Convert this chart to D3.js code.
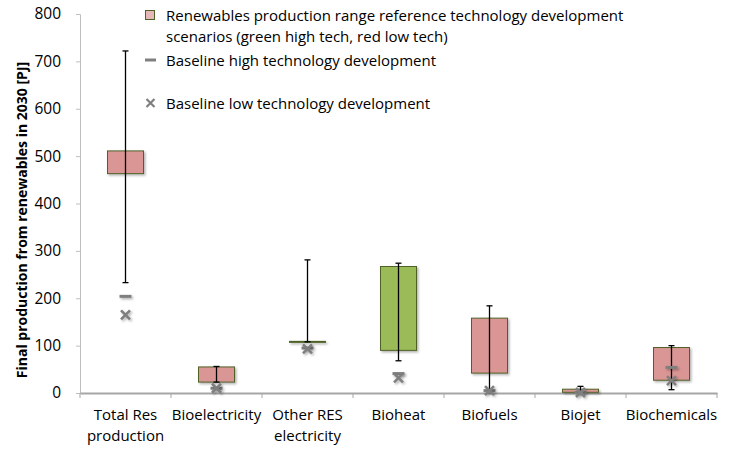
<!DOCTYPE html>
<html><head><meta charset="utf-8">
<script src="https://cdn.jsdelivr.net/npm/d3@7/dist/d3.min.js"></script>
<style>body{margin:0;background:#fff}svg{display:block}text{font-family:"Open Sans","Noto Sans",sans-serif;fill:#000}</style>
</head><body><svg id="c" width="736" height="449"></svg>
<script>
const categories = [["Total Res","production"],["Bioelectricity"],["Other RES","electricity"],["Bioheat"],["Biofuels"],["Biojet"],["Biochemicals"]];
const boxLow   = [463, 23, 108, 90, 42, 1.5, 27];
const boxHigh  = [511, 55, 109, 267, 158, 8, 96];
const whiskerLow  = [233, 23, 108, 68, 5, 1.5, 7];
const whiskerHigh = [722, 56, 281, 274, 184, 14, 100];
const scenario = ["low","low","high","high","low","low","low"];
const baselineHigh = [204, 10, 95, 41, 5, 1, 54];
const baselineLow  = [165, 10, 93, 32, 5, 1, 26];
const yTicks = [0,100,200,300,400,500,600,700,800];
const legendLabels = [["Renewables production range reference technology development","scenarios (green high tech, red low tech)"],["Baseline high technology development"],["Baseline low technology development"]];

const svg = d3.select("#c");
const names = categories.map(c=>c.join(" "));
const x = d3.scaleBand().domain(names).range([80,717]).padding(0);
const y = d3.scaleLinear().domain([0,800]).range([393,14]);
const fillOf = s => s==="high" ? "#9BBB59" : "#D99694";
const boxW = 36;

const defs = svg.append("defs");
const f = defs.append("filter").attr("id","sh").attr("filterUnits","userSpaceOnUse")
  .attr("x",0).attr("y",0).attr("width",736).attr("height",449);
f.append("feDropShadow").attr("dx",1.5).attr("dy",1.5).attr("stdDeviation",1.2).attr("flood-color","#000").attr("flood-opacity",0.3);

// y axis
const ya = svg.append("g").attr("transform","translate(80,0)").call(d3.axisLeft(y).tickValues(yTicks).tickSize(4).tickPadding(15));
ya.select(".domain").attr("stroke","#BFBFBF");
ya.selectAll(".tick line").attr("stroke","#BFBFBF");
ya.selectAll("text").style("font-size","15.5px").attr("fill","#000");

// x axis
const xa = svg.append("g").attr("transform","translate(0,393)").call(d3.axisBottom(x).tickSize(0).tickFormat(""));
xa.select(".domain").attr("stroke","#A6A6A6").attr("stroke-width",1.8);
svg.append("g").selectAll("line").data(names.concat(["__end"])).join("line")
  .attr("x1",(d,i)=> i<names.length ? x(d) : x.range()[1]).attr("x2",(d,i)=> i<names.length ? x(d) : x.range()[1])
  .attr("y1",393).attr("y2",398).attr("stroke","#A6A6A6").attr("stroke-width",1);
categories.forEach((c,i)=>{
  const t = svg.append("text").attr("text-anchor","middle").style("font-size","15px");
  c.forEach((line,j)=> t.append("tspan").attr("x",x(names[i])+x.bandwidth()/2).attr("y",420+j*21).text(line));
});

// y label
svg.append("text").attr("transform","translate(27,220) rotate(-90)").attr("text-anchor","middle")
  .style("font-size","14px").style("font-weight","bold").text("Final production from renewables in 2030 [PJ]");

// boxes
const cx = i => x(names[i]) + x.bandwidth()/2;
const g = svg.append("g");
g.selectAll("rect.box").data(names).join("rect").attr("class","box")
  .attr("x",(d,i)=>cx(i)-boxW/2).attr("width",boxW)
  .attr("y",(d,i)=>y(boxHigh[i])).attr("height",(d,i)=>Math.max(1,y(boxLow[i])-y(boxHigh[i])))
  .attr("fill",(d,i)=>fillOf(scenario[i])).attr("stroke","#4F6228").attr("stroke-width",1)
  .attr("filter","url(#sh)");

// whiskers
g.selectAll("line.wh").data(names).join("line").attr("class","wh")
  .attr("x1",(d,i)=>cx(i)).attr("x2",(d,i)=>cx(i))
  .attr("y1",(d,i)=>y(whiskerHigh[i])).attr("y2",(d,i)=>y(whiskerLow[i]))
  .attr("stroke","#000").attr("stroke-width",1.3);
["cap1","cap2"].forEach((k,ki)=>{
  const arr = ki===0 ? whiskerHigh : whiskerLow;
  g.selectAll("line."+k).data(names).join("line").attr("class",k)
    .attr("x1",(d,i)=>cx(i)-3).attr("x2",(d,i)=>cx(i)+3)
    .attr("y1",(d,i)=>y(arr[i])).attr("y2",(d,i)=>y(arr[i]))
    .attr("stroke","#000").attr("stroke-width",1.3);
});

// baseline high (dash)
g.selectAll("line.bh").data(names).join("line").attr("class","bh")
  .attr("x1",(d,i)=>cx(i)-6).attr("x2",(d,i)=>cx(i)+6)
  .attr("y1",(d,i)=>y(baselineHigh[i])).attr("y2",(d,i)=>y(baselineHigh[i]))
  .attr("stroke","#7F7F7F").attr("stroke-width",3).attr("filter","url(#sh)");
// baseline low (x)
const xPath = (cxv,cyv,s)=>`M${cxv-s},${cyv-s}L${cxv+s},${cyv+s}M${cxv-s},${cyv+s}L${cxv+s},${cyv-s}`;
g.selectAll("path.bl").data(names).join("path").attr("class","bl")
  .attr("d",(d,i)=>xPath(cx(i),y(baselineLow[i]),4.5))
  .attr("stroke","#7F7F7F").attr("stroke-width",2.6).attr("fill","none").attr("filter","url(#sh)");

// legend
const lg = svg.append("g");
lg.append("rect").attr("x",145.5).attr("y",10.5).attr("width",9).attr("height",9).attr("fill","#E6B9B8").attr("stroke","#4F6228");
lg.append("line").attr("x1",145).attr("x2",156).attr("y1",60).attr("y2",60).attr("stroke","#7F7F7F").attr("stroke-width",3);
lg.append("path").attr("d",xPath(150.5,103,4)).attr("stroke","#7F7F7F").attr("stroke-width",2.2).attr("fill","none");
const legY = [[21,42],[66],[109]];
legendLabels.forEach((lines,i)=>{
  lines.forEach((t,j)=> lg.append("text").attr("x",166).attr("y",legY[i][j]).style("font-size","15px").text(t));
});
</script></body></html>
